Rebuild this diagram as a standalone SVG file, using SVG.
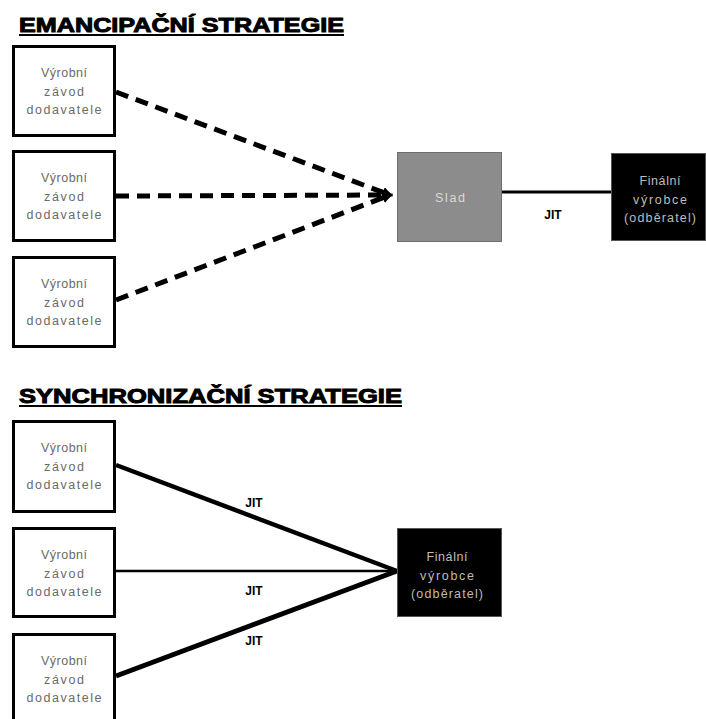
<svg xmlns="http://www.w3.org/2000/svg" width="706" height="719" viewBox="0 0 706 719">
  <style>
    .title { font-family: "Liberation Sans", Arial, sans-serif; font-weight: bold; font-size: 21px; fill: #000; stroke: #000; stroke-width: 1px; }
    .uline { stroke: #000; stroke-width: 2; }
    .supplier rect { fill: #fff; stroke: #000; stroke-width: 3; }
    .supplier text { font-family: "Liberation Sans", Arial, sans-serif; font-size: 12.5px; fill: #6a6a6a; text-anchor: middle; }
    .store rect { fill: #8c8c8c; stroke: #6e6e6e; stroke-width: 1; }
    .store text { font-family: "Liberation Sans", Arial, sans-serif; font-size: 12.5px; fill: #d8d8d8; text-anchor: middle; }
    .plant rect { fill: #000; stroke: #555; stroke-width: 1; }
    .plant text { font-family: "Liberation Sans", Arial, sans-serif; font-size: 12.5px; fill: #bdbdbd; text-anchor: middle; }
    .dash { fill: none; stroke: #000; stroke-width: 5; stroke-dasharray: 13 8; marker-end: url(#head); }
    .solid { fill: none; stroke: #000; }
    .jit { font-family: "Liberation Sans", Arial, sans-serif; font-weight: bold; font-size: 12px; fill: #000; text-anchor: middle; }
  </style>
  <defs>
    <marker id="head" viewBox="0 0 10 10" refX="7" refY="5" markerWidth="2.2" markerHeight="2.6" orient="auto" markerUnits="strokeWidth">
      <path d="M0,0 L10,5 L0,10 Z" fill="#000"/>
    </marker>
  </defs>

  <!-- section headings -->
  <g id="heading-emancipation">
    <text class="title" x="19" y="32" textLength="325" lengthAdjust="spacingAndGlyphs">EMANCIPAČNÍ STRATEGIE</text>
    <line class="uline" x1="19" y1="35" x2="344" y2="35"/>
  </g>
  <g id="heading-synchronization">
    <text class="title" x="19" y="403" textLength="383" lengthAdjust="spacingAndGlyphs">SYNCHRONIZAČNÍ STRATEGIE</text>
    <line class="uline" x1="19" y1="406" x2="402" y2="406"/>
  </g>

  <!-- connectors -->
  <g id="connectors">
    <line class="dash" x1="116" y1="92" x2="390" y2="195"/>
    <line class="dash" x1="116" y1="196" x2="390" y2="195"/>
    <line class="dash" x1="116" y1="300" x2="390" y2="195"/>
    <line class="solid" stroke-width="3" x1="502" y1="192" x2="611" y2="192"/>
    <text class="jit" x="553" y="219">JIT</text>

    <line class="solid" stroke-width="4.5" x1="116" y1="465" x2="397" y2="571"/>
    <line class="solid" stroke-width="2.5" x1="116" y1="571" x2="397" y2="571"/>
    <line class="solid" stroke-width="5" x1="116" y1="676" x2="397" y2="571"/>
    <text class="jit" x="254" y="507">JIT</text>
    <text class="jit" x="254" y="595">JIT</text>
    <text class="jit" x="254" y="645">JIT</text>
  </g>

  <!-- emancipation strategy nodes -->
  <g id="e-supplier-1" class="supplier">
    <rect x="13.5" y="46.5" width="101" height="89"/>
    <text x="64" y="77" textLength="46">Výrobní</text>
    <text x="64" y="96" textLength="40">závod</text>
    <text x="64" y="114" textLength="75">dodavatele</text>
  </g>
  <g id="e-supplier-2" class="supplier">
    <rect x="13.5" y="151.5" width="101" height="89"/>
    <text x="64" y="182" textLength="46">Výrobní</text>
    <text x="64" y="201" textLength="40">závod</text>
    <text x="64" y="219" textLength="75">dodavatele</text>
  </g>
  <g id="e-supplier-3" class="supplier">
    <rect x="13.5" y="257.5" width="101" height="89"/>
    <text x="64" y="288" textLength="46">Výrobní</text>
    <text x="64" y="307" textLength="40">závod</text>
    <text x="64" y="325" textLength="75">dodavatele</text>
  </g>
  <g id="e-warehouse" class="store">
    <rect x="397.5" y="152.5" width="104" height="89"/>
    <text x="450" y="202" textLength="30">Slad</text>
  </g>
  <g id="e-manufacturer" class="plant">
    <rect x="611.5" y="153.5" width="94" height="87"/>
    <text x="660" y="185" textLength="41">Finální</text>
    <text x="660" y="204" textLength="54">výrobce</text>
    <text x="660" y="222" textLength="72">(odběratel)</text>
  </g>

  <!-- synchronization strategy nodes -->
  <g id="s-supplier-1" class="supplier">
    <rect x="13.5" y="421.5" width="101" height="90"/>
    <text x="64" y="452" textLength="46">Výrobní</text>
    <text x="64" y="471" textLength="40">závod</text>
    <text x="64" y="489" textLength="75">dodavatele</text>
  </g>
  <g id="s-supplier-2" class="supplier">
    <rect x="13.5" y="528.5" width="101" height="88"/>
    <text x="64" y="559" textLength="46">Výrobní</text>
    <text x="64" y="578" textLength="40">závod</text>
    <text x="64" y="596" textLength="75">dodavatele</text>
  </g>
  <g id="s-supplier-3" class="supplier">
    <rect x="13.5" y="634.5" width="101" height="92"/>
    <text x="64" y="665" textLength="46">Výrobní</text>
    <text x="64" y="684" textLength="40">závod</text>
    <text x="64" y="702" textLength="75">dodavatele</text>
  </g>
  <g id="s-manufacturer" class="plant">
    <rect x="397.5" y="528.5" width="104" height="88"/>
    <text x="447" y="561" textLength="41">Finální</text>
    <text x="447" y="580" textLength="54">výrobce</text>
    <text x="447" y="598" textLength="72">(odběratel)</text>
  </g>
</svg>
